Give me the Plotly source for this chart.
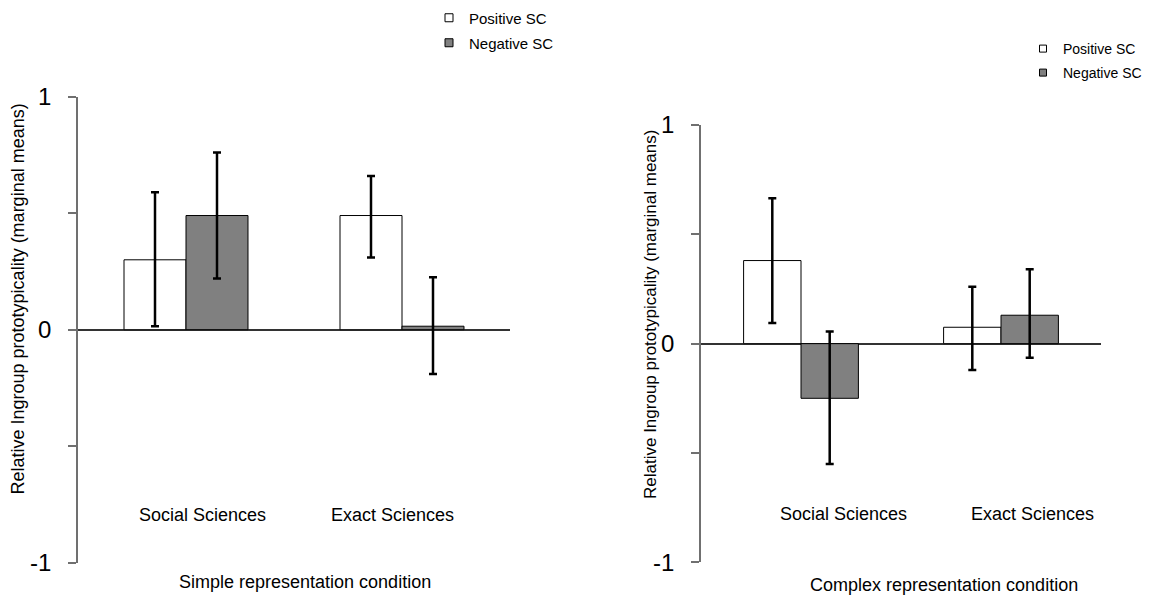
import plotly.graph_objects as go

W, H = 1153, 599

categories = ["Social Sciences", "Exact Sciences"]
series_names = ["Positive SC", "Negative SC"]
y_tick_vals = [-1, -0.5, 0, 0.5, 1]
y_tick_text = ["-1", "", "0", "", "1"]

# Simple representation condition (means, upper and lower CI limits)
simple_pos = [0.30, 0.49]
simple_pos_hi = [0.59, 0.66]
simple_pos_lo = [0.015, 0.31]
simple_neg = [0.49, 0.015]
simple_neg_hi = [0.76, 0.225]
simple_neg_lo = [0.22, -0.19]

# Complex representation condition
complex_pos = [0.38, 0.075]
complex_pos_hi = [0.665, 0.26]
complex_pos_lo = [0.095, -0.12]
complex_neg = [-0.25, 0.13]
complex_neg_hi = [0.055, 0.34]
complex_neg_lo = [-0.55, -0.065]

FONT = "Liberation Sans, Arial, sans-serif"
colors = ["#ffffff", "#808080"]


def px(x):
    return x / W


def py(y):
    return 1 - y / H


fig = go.Figure()


def add_bars(vals, hi, lo, color, xa, ya):
    fig.add_trace(go.Bar(
        x=categories, y=vals, xaxis=xa, yaxis=ya,
        marker=dict(color=color, line=dict(color="#000000", width=1)),
        error_y=dict(type="data", symmetric=False,
                     array=[h - v for h, v in zip(hi, vals)],
                     arrayminus=[v - l for v, l in zip(vals, lo)],
                     color="#000000", thickness=2.5, width=4),
        showlegend=False, hoverinfo="skip"))


add_bars(simple_pos, simple_pos_hi, simple_pos_lo, colors[0], "x", "y")
add_bars(simple_neg, simple_neg_hi, simple_neg_lo, colors[1], "x", "y")
add_bars(complex_pos, complex_pos_hi, complex_pos_lo, colors[0], "x2", "y2")
add_bars(complex_neg, complex_neg_hi, complex_neg_lo, colors[1], "x2", "y2")

# legend entries (one legend per entry so each can be placed exactly)
leg_specs = [
    ("legend", series_names[0], colors[0], 8, "x", "y"),
    ("legend2", series_names[1], colors[1], 8, "x", "y"),
    ("legend3", series_names[0], colors[0], 7, "x2", "y2"),
    ("legend4", series_names[1], colors[1], 7, "x2", "y2"),
]
for lg, name, col, sz, xa, ya in leg_specs:
    fig.add_trace(go.Scatter(
        x=[None], y=[None], mode="markers", name=name, legend=lg,
        xaxis=xa, yaxis=ya,
        marker=dict(symbol="square", size=sz, color=col,
                    line=dict(color="#000000", width=1)),
        showlegend=True))

axis_common_y = dict(
    range=[-1, 1], tickvals=y_tick_vals, ticktext=y_tick_text,
    ticks="outside", ticklen=8, tickwidth=1.5, tickcolor="#707070",
    showline=True, linecolor="#707070", linewidth=1.5,
    showgrid=False, zeroline=True, zerolinecolor="#333333", zerolinewidth=1.5,
    tickfont=dict(size=24, color="#000000", family=FONT),
    ticklabelstandoff=12, fixedrange=True, automargin=False,
)
axis_common_x = dict(
    type="category", range=[-0.5, 1.5], showline=False, showgrid=False,
    zeroline=False, showticklabels=False, ticks="", fixedrange=True,
    automargin=False,
)

fig.update_layout(
    template="none",
    width=W, height=H, autosize=False,
    margin=dict(l=0, r=0, t=0, b=0, pad=0, autoexpand=False),
    paper_bgcolor="#ffffff", plot_bgcolor="#ffffff",
    font=dict(family=FONT, color="#000000"),
    barmode="group", bargap=0.426, bargroupgap=0,
    xaxis=dict(domain=[px(78), px(510)], anchor="y", **axis_common_x),
    yaxis=dict(domain=[py(562.7), py(96.7)], anchor="x", **axis_common_y),
    xaxis2=dict(domain=[px(701), px(1101)], anchor="y2", **axis_common_x),
    yaxis2=dict(domain=[py(562.3), py(125)], anchor="x2", **axis_common_y),
)

leg_pos = {
    "legend": (429, 18, 15),
    "legend2": (429, 43, 15),
    "legend3": (1023, 49, 14),
    "legend4": (1023, 73, 14),
}
for lg, (lx, ly, fs) in leg_pos.items():
    fig.update_layout(**{lg: dict(
        x=px(lx), y=py(ly), xanchor="left", yanchor="middle",
        bgcolor="rgba(0,0,0,0)", borderwidth=0,
        font=dict(size=fs, family=FONT, color="#000000"))})

annotations = []
# category labels
for cat, xs, yy, xa in [
    (categories[0], 16, 515, "x"), (categories[1], -10, 515, "x"),
    (categories[0], 42, 514.3, "x2"), (categories[1], 31, 514.3, "x2"),
]:
    annotations.append(dict(text=cat, x=cat, xref=xa, y=py(yy), yref="paper",
                            xshift=xs, showarrow=False, xanchor="center", yanchor="middle",
                            font=dict(size=18, family=FONT, color="#000000")))
# x titles
annotations.append(dict(text="Simple representation condition", x=px(305), y=py(581.5),
                        xref="paper", yref="paper", showarrow=False,
                        xanchor="center", yanchor="middle",
                        font=dict(size=18, family=FONT, color="#000000")))
annotations.append(dict(text="Complex representation condition", x=px(944), y=py(585),
                        xref="paper", yref="paper", showarrow=False,
                        xanchor="center", yanchor="middle",
                        font=dict(size=18, family=FONT, color="#000000")))
# y titles
ytitle = "Relative Ingroup prototypicality (marginal means)"
annotations.append(dict(text=ytitle, x=px(17.5), y=py(299), xref="paper", yref="paper",
                        showarrow=False, textangle=-90, xanchor="center", yanchor="middle",
                        font=dict(size=18, family=FONT, color="#000000")))
annotations.append(dict(text=ytitle, x=px(650), y=py(315), xref="paper", yref="paper",
                        showarrow=False, textangle=-90, xanchor="center", yanchor="middle",
                        font=dict(size=17, family=FONT, color="#000000")))
fig.update_layout(annotations=annotations)

fig.write_html("out.html", config={"displayModeBar": False},
               post_script="document.body.style.margin='0';document.body.style.overflow='hidden';")
